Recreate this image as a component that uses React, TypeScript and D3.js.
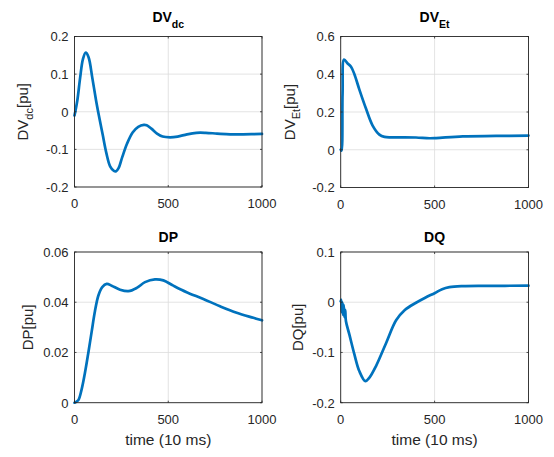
import React from 'react';
import * as d3 from 'd3';

// ---- data (time in units of 10 ms) ----
const timeDVdc = [0, 15, 30, 45, 60, 75, 95, 115, 130, 150, 170, 190, 210, 222, 235, 255, 280, 310, 340, 370, 385, 410, 440, 470, 510, 550, 600, 650, 700, 760, 830, 900, 1000];
const valDVdc = [-0.01, 0.03, 0.09, 0.14, 0.157, 0.145, 0.09, 0.03, -0.01, -0.06, -0.11, -0.145, -0.157, -0.158, -0.15, -0.12, -0.085, -0.055, -0.04, -0.035, -0.036, -0.045, -0.058, -0.066, -0.068, -0.066, -0.06, -0.056, -0.056, -0.058, -0.06, -0.06, -0.059];

const timeDVEt = [0, 4, 10, 18, 37, 55, 73, 99, 135, 170, 206, 233, 270, 330, 401, 472, 508, 650, 828, 1000];
const valDVEt = [0, -0.005, 0.3, 0.478, 0.457, 0.44, 0.4, 0.32, 0.217, 0.128, 0.08, 0.068, 0.066, 0.066, 0.065, 0.061, 0.062, 0.071, 0.073, 0.075];

const timeDP = [0, 20, 38, 56, 74, 92, 109, 127, 148, 172, 198, 243, 287, 332, 376, 429, 474, 527, 598, 687, 776, 865, 954, 1000];
const valDP = [0, 0.001, 0.0053, 0.012, 0.02, 0.0285, 0.0364, 0.0426, 0.046, 0.0473, 0.0466, 0.045, 0.0444, 0.0457, 0.048, 0.0491, 0.0487, 0.0466, 0.044, 0.0413, 0.0384, 0.0358, 0.0338, 0.0328];

const timeDQ = [0, 3, 6, 9, 12, 16, 20, 24, 28, 46, 73, 99, 131, 153, 188, 242, 295, 340, 401, 450, 502, 540, 579, 650, 775, 1000];
const valDQ = [0.002, 0.005, -0.02, 0.0, -0.025, -0.005, -0.03, -0.015, -0.038, -0.064, -0.104, -0.137, -0.157, -0.15, -0.127, -0.081, -0.036, -0.016, -0.001, 0.009, 0.0185, 0.026, 0.03, 0.032, 0.0325, 0.033];

const xTicks = [0, 500, 1000];
const yTicksDVdc = [-0.2, -0.1, 0, 0.1, 0.2];
const yTicksDVEt = [-0.2, 0, 0.2, 0.4, 0.6];
const yTicksDP = [0, 0.02, 0.04, 0.06];
const yTicksDQ = [-0.2, -0.1, 0, 0.1];

const titles = [['DV', 'dc'], ['DV', 'Et'], ['DP', ''], ['DQ', '']];
const yLabels = [['DV', 'dc', '[pu]'], ['DV', 'Et', '[pu]'], ['DP', '', '[pu]'], ['DQ', '', '[pu]']];
const xLabel = 'time (10 ms)';

const FONT = '"Liberation Sans", Arial, Helvetica, sans-serif';
const BLUE = '#0072BD';
const DARK = '#262626';

const panels = [
  { t: timeDVdc, v: valDVdc, yt: yTicksDVdc, box: [74.5, 262, 36.5, 187], titleY: 21.7, ylx: 28.3, showX: false },
  { t: timeDVEt, v: valDVEt, yt: yTicksDVEt, box: [340.7, 528.5, 36.5, 187.5], titleY: 21.7, ylx: 295, showX: false },
  { t: timeDP, v: valDP, yt: yTicksDP, box: [74.5, 262, 252, 402.7], titleY: 242, ylx: 32.8, showX: true },
  { t: timeDQ, v: valDQ, yt: yTicksDQ, box: [340.7, 528.5, 252, 402.7], titleY: 242, ylx: 303, showX: true },
];

function fmt(v: number) {
  return String(+v.toFixed(3));
}

function Panel({ p, i }: { p: any; i: number }) {
  const [x0, x1, y0, y1] = p.box;
  const x = d3.scaleLinear().domain([0, 1000]).range([x0, x1]);
  const y = d3.scaleLinear().domain([p.yt[0], p.yt[p.yt.length - 1]]).range([y1, y0]);
  const pts: [number, number][] = p.t.map((t: number, k: number) => [t, p.v[k]]);
  const line = d3.line<[number, number]>().x(d => x(d[0])).y(d => y(d[1])).curve(d3.curveCatmullRom.alpha(0.5));
  const cx = (x0 + x1) / 2;
  const cy = (y0 + y1) / 2;
  const [tm, ts] = titles[i];
  const [lm, ls, lr] = yLabels[i];
  const tickLen = 2;
  return (
    <g>
      <rect x={x0} y={y0} width={x1 - x0} height={y1 - y0} fill="#fff" />
      {xTicks.map(t => (
        <line key={'gx' + t} x1={x(t)} x2={x(t)} y1={y0} y2={y1} stroke="#dcdcdc" strokeWidth={0.8} />
      ))}
      {p.yt.map((t: number) => (
        <line key={'gy' + t} x1={x0} x2={x1} y1={y(t)} y2={y(t)} stroke="#dcdcdc" strokeWidth={0.8} />
      ))}
      <path d={line(pts) || ''} fill="none" stroke={BLUE} strokeWidth={2.7} strokeLinejoin="round" strokeLinecap="round" />
      <rect x={x0} y={y0} width={x1 - x0} height={y1 - y0} fill="none" stroke={DARK} strokeWidth={0.9} />
      {xTicks.map(t => (
        <g key={'tx' + t}>
          <line x1={x(t)} x2={x(t)} y1={y1} y2={y1 - tickLen} stroke={DARK} strokeWidth={0.8} />
          <line x1={x(t)} x2={x(t)} y1={y0} y2={y0 + tickLen} stroke={DARK} strokeWidth={0.8} />
          <text x={x(t)} y={y1 + 21} textAnchor="middle" fontSize={13} fill={DARK} fontFamily={FONT}>{fmt(t)}</text>
        </g>
      ))}
      {p.yt.map((t: number) => (
        <g key={'ty' + t}>
          <line x1={x0} x2={x0 + tickLen} y1={y(t)} y2={y(t)} stroke={DARK} strokeWidth={0.8} />
          <line x1={x1} x2={x1 - tickLen} y1={y(t)} y2={y(t)} stroke={DARK} strokeWidth={0.8} />
          <text x={x0 - 6} y={y(t)} dy="0.38em" textAnchor="end" fontSize={13} fill={DARK} fontFamily={FONT}>{fmt(t)}</text>
        </g>
      ))}
      <text x={cx} y={p.titleY} textAnchor="middle" fontSize={14} fontWeight="bold" fill="#000" fontFamily={FONT}>
        {tm}
        {ts ? <tspan dy={6} fontSize={10.5}>{ts}</tspan> : null}
      </text>
      <text transform="rotate(-90)" x={-cy} y={p.ylx} textAnchor="middle" fontSize={15} fill={DARK} fontFamily={FONT}>
        {lm}
        {ls ? <tspan dy={5} fontSize={11}>{ls}</tspan> : null}
        <tspan dy={ls ? -5 : 0}>{lr}</tspan>
      </text>
      {p.showX ? (
        <text x={cx} y={445} textAnchor="middle" fontSize={15.5} fill={DARK} fontFamily={FONT}>{xLabel}</text>
      ) : null}
    </g>
  );
}

export default function App() {
  return (
    <svg width={554} height={457} style={{ position: 'absolute', left: 0, top: 0, background: '#fff' }}>
      <rect width={554} height={457} fill="#fff" />
      {panels.map((p, i) => (
        <Panel key={i} p={p} i={i} />
      ))}
    </svg>
  );
}
